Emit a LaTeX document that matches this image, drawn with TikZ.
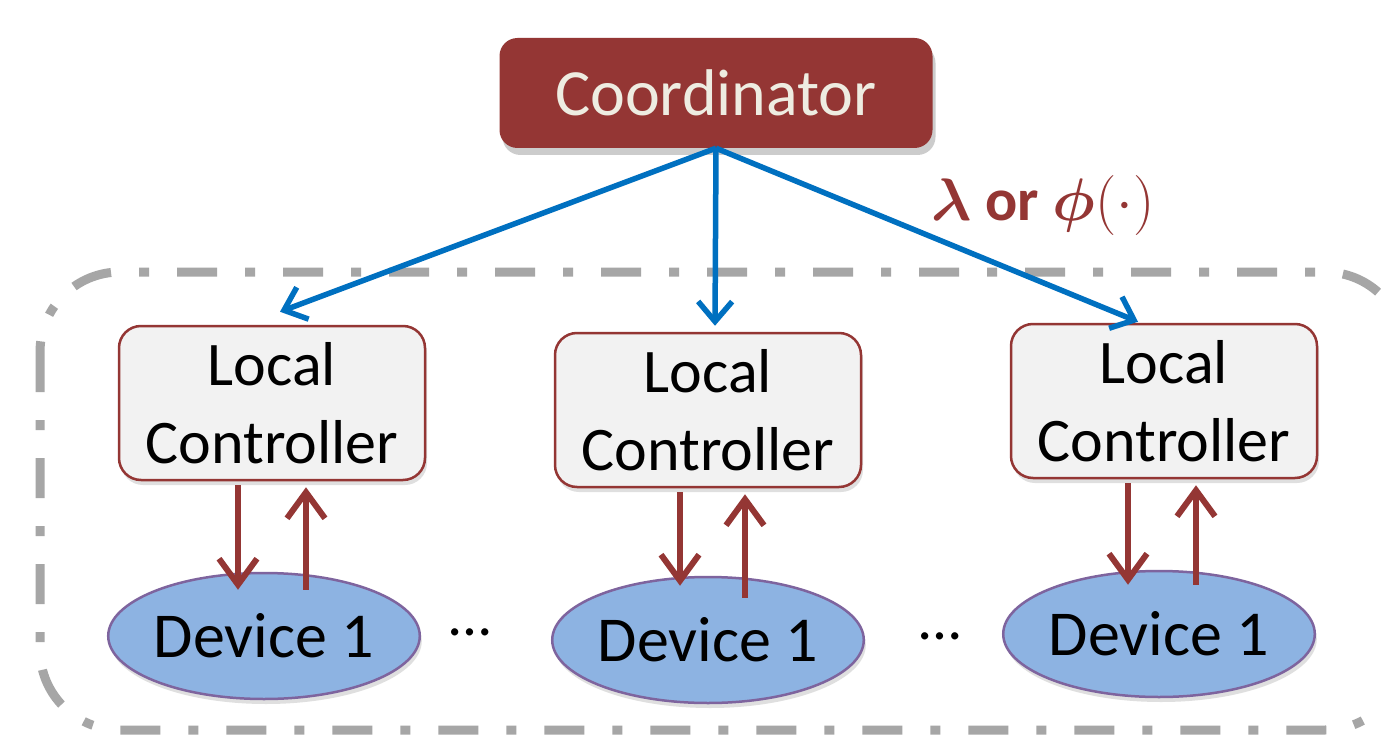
\RequirePackage{fix-cm}
\documentclass[tikz,border=0pt]{standalone}
\usepackage{fontspec}
\setmainfont{Carlito}
\usepackage{bm}
\usetikzlibrary{arrows.meta,shapes.geometric,shadows}

\definecolor{coordred}{HTML}{943634}
\definecolor{cream}{HTML}{EEECE1}
\definecolor{ctrlfill}{HTML}{F2F2F2}
\definecolor{devfill}{HTML}{8DB3E2}
\definecolor{devline}{HTML}{7E649E}
\definecolor{linkblue}{HTML}{0070C0}
\definecolor{groupgray}{HTML}{A6A6A6}

\begin{document}
\begin{tikzpicture}[x=1pt,y=-1pt,
  softshadow/.style={drop shadow={opacity=0.25, shadow xshift=2pt, shadow yshift=-5pt}},
  coordbox/.style={rectangle, rounded corners=18pt, fill=coordred, text=cream,
    minimum width=433pt, minimum height=110pt, inner sep=0pt,
    font=\fontsize{66}{70}\selectfont,
    drop shadow={opacity=0.4, shadow xshift=3pt, shadow yshift=-7pt}},
  ctrlbox/.style={rectangle, rounded corners=22pt, draw=coordred, line width=2.5pt,
    fill=ctrlfill, minimum width=306pt, minimum height=154pt, inner sep=0pt,
    align=center, font=\fontsize{62}{78}\selectfont, softshadow},
  device/.style={ellipse, draw=devline, line width=2.5pt, fill=devfill,
    minimum width=310pt, minimum height=126pt, inner sep=0pt,
    font=\fontsize{64}{70}\selectfont, softshadow},
  dots/.style={font=\fontsize{60}{70}\selectfont},
  tolocal/.style={coordred, line width=6pt,
    -{Straight Barb[length=26pt,width=38pt,line width=6pt]}},
  broadcast/.style={linkblue, line width=5.5pt,
    -{Straight Barb[length=20pt,width=34pt,line width=5.5pt]}},
  groupframe/.style={groupgray, line width=9pt, rounded corners=80pt,
    dash pattern=on 40pt off 28pt on 10pt off 28pt}
]
\useasboundingbox (0,0) rectangle (1381,738);
\clip (0,0) rectangle (1381,738);
\fill[white] (0,0) rectangle (1381,738);

% group of local controllers and devices
\draw[groupframe] (40,272) rectangle (1405,730);

% coordinator
\node[coordbox] (coord) at (716,93) {Coordinator};

% local controllers
\node[ctrlbox] (c1) at (272,403) {Local\\Controller};
\node[ctrlbox] (c2) at (708,410) {Local\\Controller};
\node[ctrlbox] (c3) at (1164,401) {Local\\Controller};

% devices
\node[device] (d1) at (264,636) {Device 1};
\node[device] (d2) at (708,640) {Device 1};
\node[device] (d3) at (1159,634) {Device 1};

\node[dots] (e1) at (470,632) {…};
\node[dots] (e2) at (940,636) {…};

% coordinator to local controllers
\draw[broadcast] (coord.south) -- ([xshift=8pt,yshift=13pt]c1.north);
\draw[broadcast] (coord.south) -- ([xshift=7pt,yshift=6pt]c2.north);
\draw[broadcast] (coord.south) -- ([xshift=-26pt,yshift=1pt]c3.north);

\node[text=coordred, font=\fontsize{60}{70}\selectfont] (sig) at (1043,206)
  {$\bm{\lambda}$ \textbf{or} $\bm{\phi}(\cdot)$};

% local controllers to devices and back
\draw[tolocal] ([xshift=-34pt,yshift=-4pt]c1.south) -- ([xshift=-26pt,yshift=-18pt]d1.north);
\draw[tolocal] ([xshift=42pt,yshift=-18pt]d1.north) -- ([xshift=34pt,yshift=-6pt]c1.south);
\draw[tolocal] ([xshift=-28pt,yshift=-4pt]c2.south) -- ([xshift=-28pt,yshift=-10pt]d2.north);
\draw[tolocal] ([xshift=37pt,yshift=-22pt]d2.north) -- ([xshift=37pt,yshift=-6pt]c2.south);
\draw[tolocal] ([xshift=-36pt,yshift=-4pt]c3.south) -- ([xshift=-31pt,yshift=-15pt]d3.north);
\draw[tolocal] ([xshift=37pt,yshift=-15pt]d3.north) -- ([xshift=32pt,yshift=-6pt]c3.south);
\end{tikzpicture}
\end{document}
